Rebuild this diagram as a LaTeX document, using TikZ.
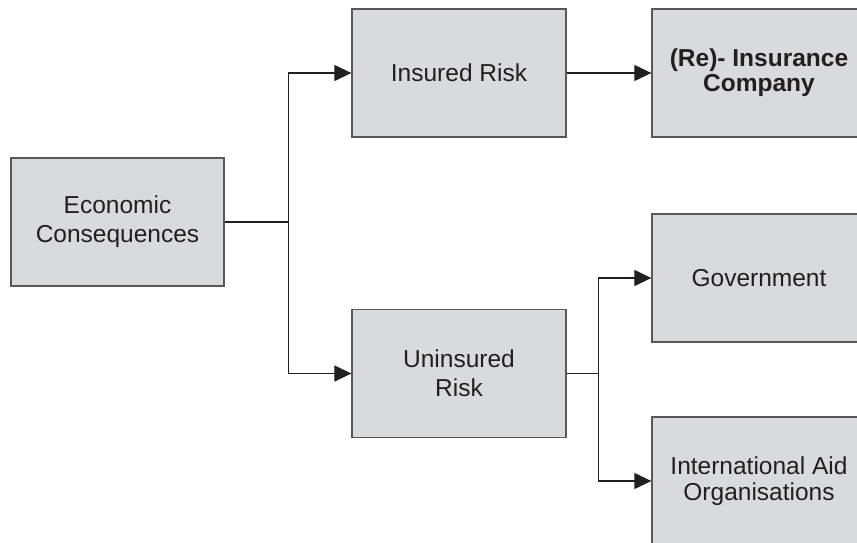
\documentclass[tikz,border=0pt]{standalone}
\usepackage{fontspec}
\setmainfont{Liberation Sans}
\usetikzlibrary{arrows.meta}
\definecolor{boxgray}{HTML}{D9DADC}
\definecolor{inkgray}{HTML}{231F20}
\tikzset{
  block/.style={draw=inkgray!75, line width=1.3pt, fill=boxgray, minimum width=214pt, minimum height=128pt, inner sep=0pt, align=center, text=inkgray, font=\fontsize{24.5}{29}\selectfont},
  link/.style={draw=inkgray, line width=1.2pt, -{Triangle[length=17pt,width=16pt]}}
}
\begin{document}
\begin{tikzpicture}[x=1pt, y=-1pt, line cap=butt, line join=miter]
			\useasboundingbox (0,0) rectangle (857,542);
			\clip (0,0) rectangle (857,542);
			\node[block, minimum width=213pt] (econ) at (117.5,222) {Economic\\Consequences};
			\node[block] (insured) at (459,73) {Insured Risk};
			\node[block] (uninsured) at (459,373.5) {Uninsured\\Risk};
			\node[block, font=\fontsize{24.5}{25}\bfseries] (reins) at (759,73) {(Re)- Insurance\\Company};
			\node[block] (gov) at (759,278) {Government};
			\node[block, font=\fontsize{24.5}{26}\selectfont] (aid) at (759,481) {International Aid\\Organisations};
			\draw[line width=1.2pt, inkgray] (econ.east) -- ++(64,0) coordinate (split1);
			\draw[link] (split1) |- (insured.west);
			\draw[link] (split1) |- (uninsured.west);
			\draw[link] (insured.east) -- (reins.west);
			\draw[line width=1.2pt, inkgray] (uninsured.east) -- ++(32,0) coordinate (split2);
			\draw[link] (split2) |- (gov.west);
			\draw[link] (split2) |- (aid.west);
		\end{tikzpicture}
\end{document}
